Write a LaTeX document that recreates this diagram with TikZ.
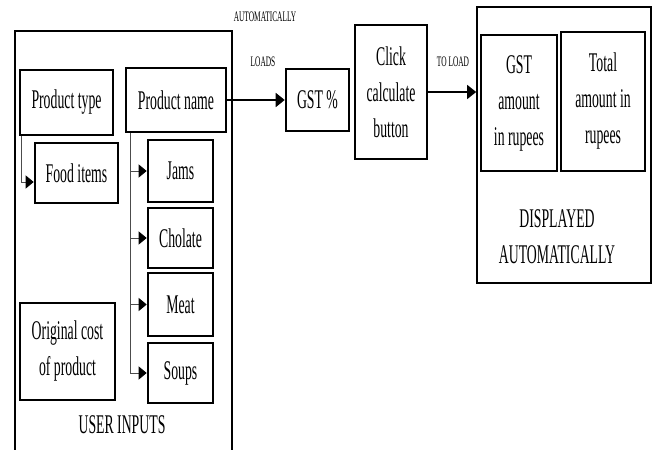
\documentclass[tikz,border=0pt]{standalone}
\usepackage{fontspec}
\usetikzlibrary{positioning, arrows.meta, calc}
\newfontfamily\boxfont[FakeStretch=0.51]{Liberation Serif}

\begin{document}
\begin{tikzpicture}[
  x=1pt, y=-1pt,
  every node/.style={font={\boxfont\fontsize{27}{36}\selectfont}, align=center, inner sep=1pt},
  item/.style={rectangle, draw, line width=2.6pt},
  panel/.style={rectangle, draw, line width=1.7pt},
  tag/.style={font={\boxfont\fontsize{14.5}{16}\selectfont}},
  arrow/.style={-{Triangle[length=9pt, width=14pt]}, line width=1.7pt},
  branch/.style={-{Triangle[length=8pt, width=13pt, color=black]}, line width=0.9pt, black!70}
]
\useasboundingbox (0,0) rectangle (652,449);

% user inputs panel (runs off the page)
\draw[panel] (15,460) |- (232,31) coordinate (inputs) -- (232,460);
\node (userinputs) at (122,425) {USER INPUTS};

\node[item, minimum width=93pt, minimum height=65pt] (ptype) at (66.5,102.5) {Product type};
\node[item, minimum width=100pt, minimum height=64pt] (pname) at (176,100) {Product name};
\node[item, minimum width=83pt, minimum height=60pt] (food) at (76.5,173) {Food items};
\node[item, minimum width=65pt, minimum height=62pt] (jams) at (180.5,171) {Jams};
\node[item, minimum width=65pt, minimum height=60pt] (cholate) at (180.5,238) {Cholate};
\node[item, minimum width=65pt, minimum height=63pt] (meat) at (180.5,304.5) {Meat};
\node[item, minimum width=65pt, minimum height=60pt] (soups) at (180.5,373) {Soups};
\node[item, minimum width=95pt, minimum height=97pt] (cost) at (67.5,351.5) {Original cost\\of product};

\node[item, minimum width=63pt, minimum height=62pt] (gst) at (317.5,100) {GST \%};
\node[item, minimum width=72pt, minimum height=134pt] (click) at (391,92) {Click\\calculate\\button};

% displayed panel
\node[panel, minimum width=174pt, minimum height=276pt] (display) at (564,145) {};
\node[item, minimum width=76pt, minimum height=136pt] (gstamt) at (519,103) {GST\\amount\\in rupees};
\node[item, minimum width=84pt, minimum height=139pt] (total) at (603,101.5) {Total\\amount in\\rupees};
\node (displayed) at (557,237) {DISPLAYED\\AUTOMATICALLY};

\node[tag] (auto) at (265,17) {AUTOMATICALLY};
\node[tag] (loads) at (263,62) {LOADS};
\node[tag] (toload) at (453,62) {TO LOAD};

\draw[arrow] (pname.east) -- (gst.west);
\draw[arrow] (click.east) -- (click.east -| display.west);

\draw[branch] ([xshift=3pt]ptype.south west) |- ([yshift=-9pt]food.west);
\coordinate (trunk) at ([xshift=6pt]pname.south west);
\foreach \n in {jams, cholate, meat, soups}
  \draw[branch] (trunk) |- (\n.west);
\end{tikzpicture}
\end{document}
